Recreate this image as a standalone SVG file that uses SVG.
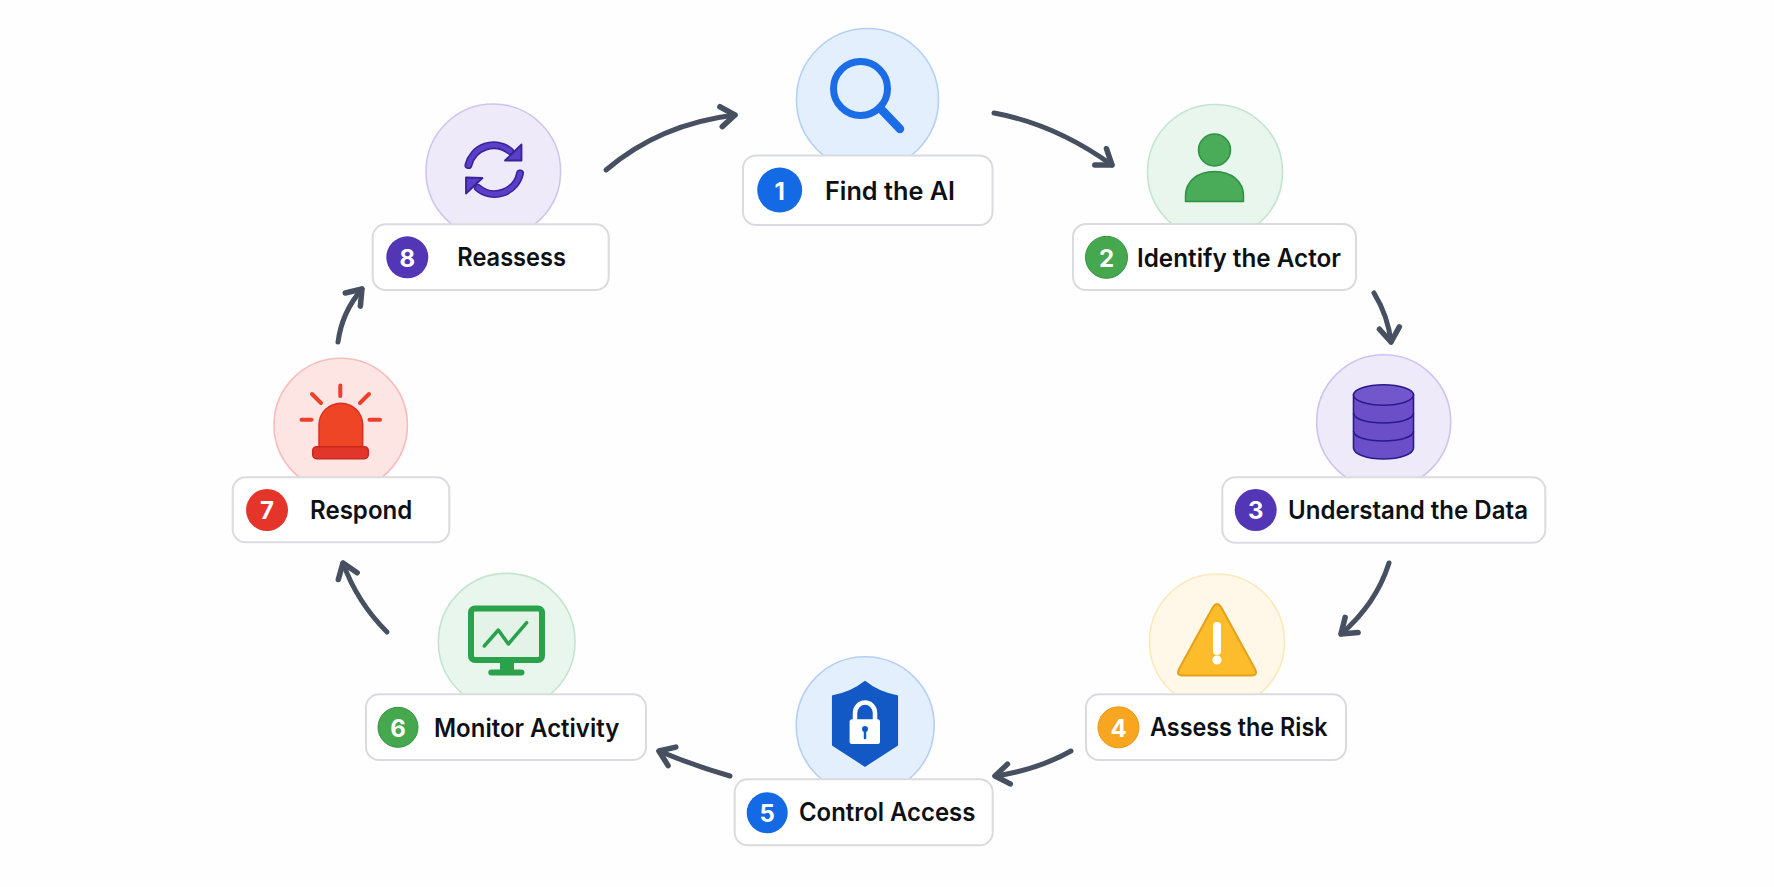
<svg xmlns="http://www.w3.org/2000/svg" width="1774" height="887" viewBox="0 0 1774 887">
<style>
.pill{fill:#fff;stroke:#dadbe0;stroke-width:2}
.lbl{font-family:Inter,"Liberation Sans",sans-serif;font-weight:600;font-size:25px;fill:#0e1014;transform:translateY(.8px)}
.num{font-family:Inter,"Liberation Sans",sans-serif;font-weight:700;font-size:24px;fill:#fff;text-anchor:middle;transform:translateY(.5px)}
.disc{stroke-width:1.6}
.blue{fill:#e4effd;stroke:#b5d0f5}.green{fill:#e9f6ed;stroke:#c3e5cf}.purple{fill:#efeafa;stroke:#cdc5ee}.yellow{fill:#fff8e8;stroke:#fbe9bb}.red{fill:#fde5e4;stroke:#f7bcbb}
.conn{fill:none;stroke:#475060;stroke-width:5;stroke-linecap:round;marker-end:url(#arrow)}
</style>
<defs>
<marker id="arrow" viewBox="0 0 26 28" refX="21" refY="14" markerUnits="userSpaceOnUse" markerWidth="26" markerHeight="28" orient="auto">
<path d="M7 4 L21 14 L7 24" fill="none" stroke="#475060" stroke-width="5.500" stroke-linecap="round" stroke-linejoin="round"/>
</marker>
</defs>
<rect width="1774" height="887" fill="#fefefe"/>
<g id="connectors">
<path class="conn" d="M994 113 Q1055 124 1112 165"/>
<path class="conn" d="M1374 293 Q1388 316 1391 342"/>
<path class="conn" d="M1389 563 Q1376 604 1341 634"/>
<path class="conn" d="M1071 751 Q1037 770 995 776"/>
<path class="conn" d="M730 776 Q695 766 659 751"/>
<path class="conn" d="M387 632 Q357 602 343 563"/>
<path class="conn" d="M338 342 Q342 312 362 289"/>
<path class="conn" d="M606 170 Q660 124 735 115"/>
</g>
<g id="node-1">
<circle class="disc blue" cx="867.500" cy="99.500" r="71"/>
<circle cx="860.500" cy="88.500" r="27" fill="none" stroke="#1a6de6" stroke-width="7"/>
<path d="M880 108 L900 129" stroke="#1a6de6" stroke-width="8.500" stroke-linecap="round"/>
<rect class="pill" x="743" y="155.500" width="249.500" height="69.500" rx="13"/>
<circle cx="779.700" cy="190" r="22.500" fill="#146ae4"/>
<text class="num" x="779.700" y="199">1</text>
<text class="lbl" x="825" y="199.300" textLength="130" lengthAdjust="spacingAndGlyphs">Find the AI</text>
</g>
<g id="node-2">
<circle class="disc green" cx="1215" cy="172" r="67.500"/>
<circle cx="1214.500" cy="150" r="16" fill="#4aab58" stroke="#2c9241" stroke-width="1.500"/>
<path d="M1185.500 201.500 V196 C1185.500 181 1198 171.500 1214.500 171.500 C1231 171.500 1243.500 181 1243.500 196 V201.500 Z" fill="#4aab58" stroke="#2c9241" stroke-width="1.500" stroke-linejoin="round"/>
<rect class="pill" x="1073" y="224" width="283" height="66" rx="13"/>
<circle cx="1106.500" cy="257.300" r="21" fill="#46a84e" stroke="#2f9440" stroke-width="1"/>
<text class="num" x="1106.500" y="266">2</text>
<text class="lbl" x="1137" y="266" textLength="204" lengthAdjust="spacingAndGlyphs">Identify the Actor</text>
</g>
<g id="node-3">
<circle class="disc purple" cx="1383.700" cy="421.700" r="67"/>
<path d="M1353.500 395 V448 C1353.500 454 1367 459 1383.500 459 C1400 459 1413.500 454 1413.500 448 V395 Z" fill="#6b4fc8" stroke="#2b1a8c" stroke-width="1.600"/>
<ellipse cx="1383.500" cy="395" rx="30" ry="10.300" fill="#7257cc" stroke="#2b1a8c" stroke-width="1.600"/>
<path d="M1353.500 413 C1353.500 419 1367 423 1383.500 423 C1400 423 1413.500 419 1413.500 413 M1353.500 431 C1353.500 437 1367 441 1383.500 441 C1400 441 1413.500 437 1413.500 431" fill="none" stroke="#2b1a8c" stroke-width="1.600"/>
<rect class="pill" x="1222.300" y="477.300" width="323" height="65.500" rx="13"/>
<circle cx="1255.700" cy="510" r="21" fill="#5336b5"/>
<text class="num" x="1255.700" y="518.500">3</text>
<text class="lbl" x="1288" y="518" textLength="240" lengthAdjust="spacingAndGlyphs">Understand the Data</text>
</g>
<g id="node-4">
<circle class="disc yellow" cx="1217" cy="641.500" r="67.500"/>
<path d="M1213 607 Q1217 601 1221 607 L1255 669 Q1258 675.500 1252 675.500 H1182 Q1176 675.500 1179 669 Z" fill="#fdbc2c" stroke="#e5a01c" stroke-width="2" stroke-linejoin="round"/>
<path d="M1217 626 V651" stroke="#fff" stroke-width="8" stroke-linecap="round"/>
<circle cx="1217" cy="660" r="4.500" fill="#fff"/>
<rect class="pill" x="1086" y="694.300" width="260" height="65.700" rx="13"/>
<circle cx="1118.500" cy="727.300" r="20.500" fill="#f8a51f" stroke="#ec9514" stroke-width="1"/>
<text class="num" x="1118.500" y="736">4</text>
<text class="lbl" x="1150" y="735.700" textLength="177.500" lengthAdjust="spacingAndGlyphs">Assess the Risk</text>
</g>
<g id="node-5">
<circle class="disc blue" cx="865.200" cy="725.700" r="69"/>
<path d="M865 681.700 Q879 693 897.300 696 V745 L865 766 L832.700 745 V696 Q851 693 865 681.700 Z" fill="#1259c6" stroke="#1259c6" stroke-width="1.500" stroke-linejoin="round"/>
<path d="M855 720 V713 A10 10.500 0 0 1 875 713 V720" fill="none" stroke="#fff" stroke-width="4.500"/>
<rect x="849.600" y="719.300" width="30.400" height="24.700" rx="2.500" fill="#fff"/>
<circle cx="865" cy="729" r="3" fill="#1259c6"/>
<path d="M865 729 V738" stroke="#1259c6" stroke-width="2.500" stroke-linecap="round"/>
<rect class="pill" x="734.700" y="779.300" width="258" height="66" rx="13"/>
<circle cx="767.200" cy="812.700" r="20.500" fill="#146ae4"/>
<text class="num" x="767.200" y="821.300">5</text>
<text class="lbl" x="799" y="820.700" textLength="176.400" lengthAdjust="spacingAndGlyphs">Control Access</text>
</g>
<g id="node-6">
<circle class="disc green" cx="506.700" cy="641.700" r="68.300"/>
<rect x="471" y="608.500" width="71" height="51.500" rx="4" fill="#e4f3e8" stroke="#2aa14b" stroke-width="6"/>
<path d="M484.300 646 L498.300 630 L508.300 644 L526.700 622.700" fill="none" stroke="#2aa14b" stroke-width="3.500" stroke-linecap="round" stroke-linejoin="round"/>
<path d="M500 663 H514 V669.500 H521 Q524.500 669.500 524.500 672.500 Q524.500 675.500 521 675.500 H491.500 Q488.300 675.500 488.300 672.500 Q488.300 669.500 491.500 669.500 H500 Z" fill="#2aa14b"/>
<rect class="pill" x="366" y="694.300" width="280" height="65.700" rx="13"/>
<circle cx="398" cy="727.300" r="20" fill="#46a84e" stroke="#2f9440" stroke-width="1"/>
<text class="num" x="398" y="736">6</text>
<text class="lbl" x="434" y="736" textLength="185.300" lengthAdjust="spacingAndGlyphs">Monitor Activity</text>
</g>
<g id="node-7">
<circle class="disc red" cx="340.700" cy="425" r="66.700"/>
<path d="M319 447 V425 A21.800 21.800 0 0 1 362.700 425 V447 Z" fill="#ef4527" stroke="#d8301f" stroke-width="1.500"/>
<rect x="312.700" y="446.700" width="55.600" height="12" rx="4" fill="#e3362a" stroke="#c9271f" stroke-width="1.500"/>
<path d="M340.300 385.500 V396 M312 394 L321 403 M369 394 L360 403 M301.500 419.700 H311.500 M369.500 419.700 H380" stroke="#ec3f2c" stroke-width="4" stroke-linecap="round"/>
<rect class="pill" x="232.700" y="477.300" width="216.600" height="65" rx="13"/>
<circle cx="267" cy="510" r="21" fill="#e5352b"/>
<text class="num" x="267" y="518.700">7</text>
<text class="lbl" x="310" y="518.700" textLength="102.300" lengthAdjust="spacingAndGlyphs">Respond</text>
</g>
<g id="node-8">
<circle class="disc purple" cx="493.300" cy="171.300" r="67.300"/>
<path d="M468.500 165 A26 26 0 0 1 510 151" fill="none" stroke="#3a2299" stroke-width="8" stroke-linecap="round"/>
<path d="M468.500 165 A26 26 0 0 1 510 151" fill="none" stroke="#5a3fc8" stroke-width="5" stroke-linecap="round"/>
<path d="M520 173.500 A26 26 0 0 1 478 188" fill="none" stroke="#3a2299" stroke-width="8" stroke-linecap="round"/>
<path d="M520 173.500 A26 26 0 0 1 478 188" fill="none" stroke="#5a3fc8" stroke-width="5" stroke-linecap="round"/>
<path d="M521.500 144.500 V160.500 H505 Z" fill="#5a3fc8" stroke="#3a2299" stroke-width="1.800" stroke-linejoin="round"/>
<path d="M466 177.500 V193.500 L482.500 178 Z" fill="#5a3fc8" stroke="#3a2299" stroke-width="1.800" stroke-linejoin="round"/>
<rect class="pill" x="372.700" y="224.300" width="236" height="65.700" rx="13"/>
<circle cx="407.300" cy="257.300" r="21" fill="#5336b5"/>
<text class="num" x="407.300" y="266">8</text>
<text class="lbl" x="457.300" y="265.700" textLength="108.700" lengthAdjust="spacingAndGlyphs">Reassess</text>
</g>
</svg>
